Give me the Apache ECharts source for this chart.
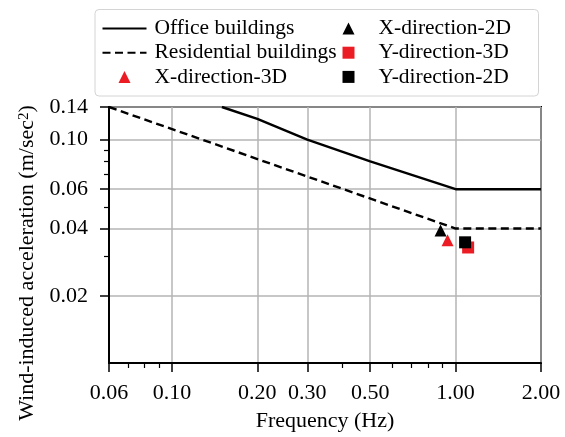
<!DOCTYPE html>
<html>
<head>
<meta charset="utf-8">
<script src="https://cdn.jsdelivr.net/npm/echarts@6/dist/echarts.min.js"></script>
<style>
  html, body { margin: 0; padding: 0; background: #ffffff; }
  #chart { width: 565px; height: 437px; }
</style>
</head>
<body>
<div id="chart"></div>
<script>
// Axis tick positions (log scales)
const freqTicks = [0.06, 0.10, 0.20, 0.30, 0.50, 1.00, 2.00];
const freqMinorTicks = [0.07, 0.08, 0.09, 0.40, 0.60, 0.70, 0.80, 0.90];
const accelTicks = [0.02, 0.04, 0.06, 0.10, 0.14];
const accelMinorTicks = [0.03, 0.05, 0.07, 0.08, 0.09];

// Habitability limit curves
const officeFreq = [0.15, 0.20, 0.30, 0.50, 1.00, 2.00];
const officeAccel = [0.14, 0.124, 0.10, 0.08, 0.06, 0.06];
const residentialFreq = [0.06, 1.00, 2.00];
const residentialAccel = [0.14, 0.04, 0.04];

// Peak accelerations of the building model
const xDir3DFreq = [0.937];
const xDir3DAccel = [0.0354];
const xDir2DFreq = [0.885];
const xDir2DAccel = [0.0392];
const yDir3DFreq = [1.107];
const yDir3DAccel = [0.0329];
const yDir2DFreq = [1.08];
const yDir2DAccel = [0.0347];

const seriesNames = ['Office buildings', 'Residential buildings', 'X-direction-3D',
                     'X-direction-2D', 'Y-direction-3D', 'Y-direction-2D'];

const pairs = (xs, ys) => xs.map((x, i) => [x, ys[i]]);

const FONT = 'Liberation Serif';
const RED = '#ec1c24';

// Square-proportioned legend markers (path icons keep their aspect ratio)
const TRIANGLE_ICON = 'path://M1,0L2,2L0,2Z';
const SQUARE_ICON = 'path://M0,0L2,0L2,2L0,2Z';

const chart = echarts.init(document.getElementById('chart'), null, { renderer: 'canvas' });

const baseX = { type: 'log', logBase: 10, min: 0.06, max: 2.0 };
const baseY = { type: 'log', logBase: 10, min: 0.01, max: 0.14 };

// Two legend columns sharing one framed box
const legendCommon = {
  orient: 'vertical', top: 17.5,
  padding: 0, itemGap: 2.2,
  itemWidth: 44, itemHeight: 12,
  symbolKeepAspect: true,
  textStyle: { fontFamily: FONT, fontSize: 21.5, color: '#000', padding: [0, 0, 0, 3] },
  z: 5
};
const legendIcons = {
  'X-direction-3D': TRIANGLE_ICON, 'X-direction-2D': TRIANGLE_ICON,
  'Y-direction-3D': SQUARE_ICON, 'Y-direction-2D': SQUARE_ICON
};
const legendItem = name => legendIcons[name]
  ? { name: name, icon: legendIcons[name] }
  : { name: name, itemStyle: { opacity: 0 } };

chart.setOption({
  animation: false,
  backgroundColor: '#ffffff',
  grid: {
    left: 109, right: 24, top: 107, bottom: 74,
    show: true, borderColor: '#000000', borderWidth: 2, backgroundColor: 'transparent'
  },
  graphic: [{
    type: 'rect', left: 94.5, top: 9, z: 1,
    shape: { width: 443.5, height: 86.5, r: 4 },
    style: { fill: '#ffffff', stroke: '#d4d4d4', lineWidth: 1 }
  }],
  legend: [
    Object.assign({}, legendCommon, { left: 101.5, data: seriesNames.slice(0, 3).map(legendItem) }),
    Object.assign({}, legendCommon, { left: 342.5, data: seriesNames.slice(3).map(legendItem) })
  ],
  xAxis: [
    Object.assign({}, baseX, {
      name: 'Frequency (Hz)', nameLocation: 'middle', nameGap: 47,
      nameTextStyle: { fontFamily: FONT, fontSize: 22, color: '#000' },
      axisLine: { show: true, lineStyle: { color: '#000', width: 2 } },
      axisTick: { show: true, length: 9, lineStyle: { color: '#000', width: 1.5 }, customValues: freqTicks },
      axisLabel: {
        fontFamily: FONT, fontSize: 22, color: '#000', margin: 19,
        customValues: freqTicks, formatter: v => Number(v).toFixed(2)
      },
      splitLine: { show: true, lineStyle: { color: '#b4b4b4', width: 1.5 } },
      minorTick: { show: false }, minorSplitLine: { show: false }
    }),
    Object.assign({}, baseX, {
      position: 'bottom',
      axisLine: { show: false },
      axisTick: { show: true, length: 5, lineStyle: { color: '#000', width: 1.2 }, customValues: freqMinorTicks },
      axisLabel: { show: false },
      splitLine: { show: false }
    })
  ],
  yAxis: [
    Object.assign({}, baseY, {
      name: '{t|Wind-induced acceleration (m/sec}{s|2}{t|)}',
      nameLocation: 'middle', nameGap: 68, nameRotate: 90,
      nameTextStyle: {
        padding: [0, 56, 0, 0],
        rich: {
          t: { fontFamily: FONT, fontSize: 22, color: '#000' },
          s: { fontFamily: FONT, fontSize: 15, color: '#000', verticalAlign: 'top', padding: [0, 0, 8, 0] }
        }
      },
      axisLine: { show: true, lineStyle: { color: '#000', width: 2 } },
      axisTick: { show: true, length: 9, lineStyle: { color: '#000', width: 1.5 }, customValues: accelTicks },
      axisLabel: {
        fontFamily: FONT, fontSize: 22, color: '#000', margin: 21,
        customValues: accelTicks, formatter: v => Number(v).toFixed(2)
      },
      splitLine: { show: true, lineStyle: { color: '#b4b4b4', width: 1.5 } },
      minorTick: { show: false }, minorSplitLine: { show: false }
    }),
    Object.assign({}, baseY, {
      position: 'left',
      axisLine: { show: false },
      axisTick: { show: true, length: 5, lineStyle: { color: '#000', width: 1.2 }, customValues: accelMinorTicks },
      axisLabel: { show: false },
      splitLine: { show: false }
    })
  ],
  series: [
    {
      name: seriesNames[0], type: 'line', symbol: 'none', showSymbol: false,
      data: pairs(officeFreq, officeAccel),
      lineStyle: { color: '#000', width: 2.4 }, itemStyle: { color: '#000', opacity: 0 }, z: 3
    },
    {
      name: seriesNames[1], type: 'line', symbol: 'none', showSymbol: false,
      data: pairs(residentialFreq, residentialAccel),
      lineStyle: { color: '#000', width: 2.4, type: [8, 4.5] }, itemStyle: { color: '#000', opacity: 0 }, z: 3
    },
    {
      name: seriesNames[2], type: 'scatter', symbol: 'triangle', symbolSize: 12,
      data: pairs(xDir3DFreq, xDir3DAccel), itemStyle: { color: RED, opacity: 1 }, z: 4
    },
    {
      name: seriesNames[3], type: 'scatter', symbol: 'triangle', symbolSize: 12,
      data: pairs(xDir2DFreq, xDir2DAccel), itemStyle: { color: '#000', opacity: 1 }, z: 4
    },
    {
      name: seriesNames[4], type: 'scatter', symbol: 'rect', symbolSize: 12,
      data: pairs(yDir3DFreq, yDir3DAccel), itemStyle: { color: RED, opacity: 1 }, z: 4
    },
    {
      name: seriesNames[5], type: 'scatter', symbol: 'rect', symbolSize: 12,
      data: pairs(yDir2DFreq, yDir2DAccel), itemStyle: { color: '#000', opacity: 1 }, z: 4
    }
  ]
});
</script>
</body>
</html>
